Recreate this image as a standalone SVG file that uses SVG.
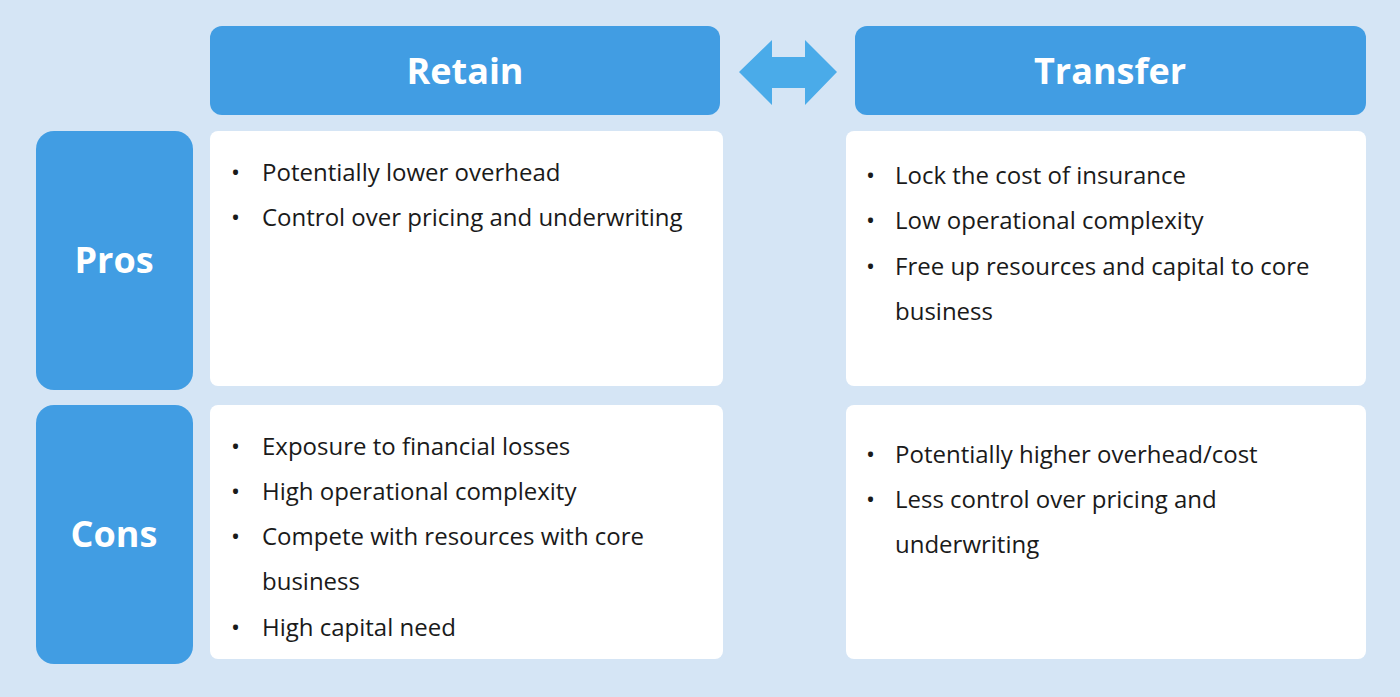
<svg xmlns="http://www.w3.org/2000/svg" width="1400" height="697" viewBox="0 0 1400 697">
<style>
.hdr{fill:#419de3}
.cell{fill:#ffffff}
.ht{font-family:"Open Sans","Liberation Sans",sans-serif;font-weight:bold;fill:#fff;text-anchor:middle}
.t{font-family:"Open Sans","Liberation Sans",sans-serif;font-size:24px;fill:#1a1a1a}
</style>
<rect width="1400" height="697" fill="#d5e5f5"/>
<g id="retain"><rect class="hdr" x="210" y="26" width="510" height="89" rx="12"/><text class="ht" x="465" y="84" font-size="36">Retain</text></g>
<g id="transfer"><rect class="hdr" x="855" y="26" width="511" height="89" rx="12"/><text class="ht" x="1110" y="84" font-size="36">Transfer</text></g>
<g id="connectors"><polygon points="739,72 772,40 772,57 805,57 805,40 837,72 805,105 805,88 772,88 772,105" fill="#4aabe9"/></g>
<g id="pros"><rect class="hdr" x="36" y="131" width="157" height="259" rx="18"/><text class="ht" x="114" y="273" font-size="36">Pros</text></g>
<g id="cons"><rect class="hdr" x="36" y="405" width="157" height="259" rx="18"/><text class="ht" x="114" y="547" font-size="36">Cons</text></g>
<g id="retain-pros"><rect class="cell" x="210" y="131" width="513" height="255" rx="8"/>
<text class="t"><tspan x="231" y="181">•</tspan><tspan x="262" y="181">Potentially lower overhead</tspan><tspan x="231" y="226">•</tspan><tspan x="262" y="226">Control over pricing and underwriting</tspan></text></g>
<g id="transfer-pros"><rect class="cell" x="846" y="131" width="520" height="255" rx="8"/>
<text class="t"><tspan x="866" y="184">•</tspan><tspan x="895" y="184">Lock the cost of insurance</tspan><tspan x="866" y="229">•</tspan><tspan x="895" y="229">Low operational complexity</tspan><tspan x="866" y="275">•</tspan><tspan x="895" y="275">Free up resources and capital to core</tspan><tspan x="895" y="320">business</tspan></text></g>
<g id="retain-cons"><rect class="cell" x="210" y="405" width="513" height="254" rx="8"/>
<text class="t"><tspan x="231" y="455">•</tspan><tspan x="262" y="455">Exposure to financial losses</tspan><tspan x="231" y="500">•</tspan><tspan x="262" y="500">High operational complexity</tspan><tspan x="231" y="545">•</tspan><tspan x="262" y="545">Compete with resources with core</tspan><tspan x="262" y="590">business</tspan><tspan x="231" y="636">•</tspan><tspan x="262" y="636">High capital need</tspan></text></g>
<g id="transfer-cons"><rect class="cell" x="846" y="405" width="520" height="254" rx="8"/>
<text class="t"><tspan x="866" y="463">•</tspan><tspan x="895" y="463">Potentially higher overhead/cost</tspan><tspan x="866" y="508">•</tspan><tspan x="895" y="508">Less control over pricing and</tspan><tspan x="895" y="553">underwriting</tspan></text></g>
</svg>
